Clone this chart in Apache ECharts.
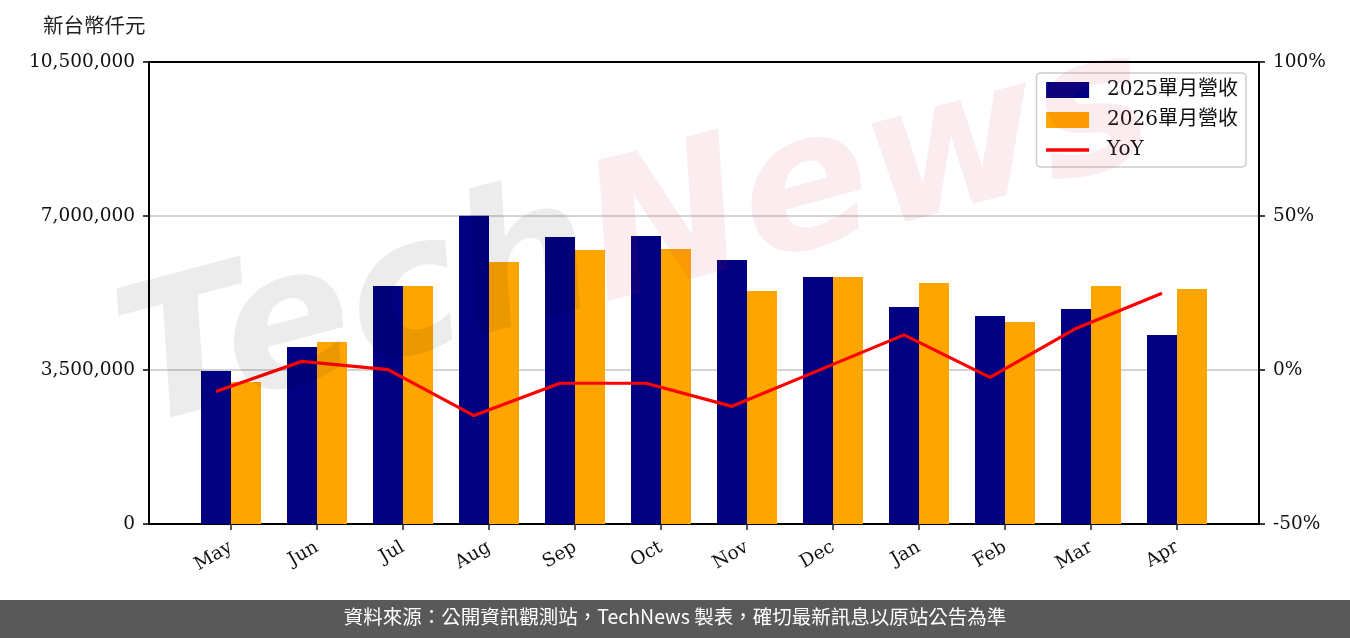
<!DOCTYPE html>
<html>
<head>
<meta charset="utf-8">
<script src="https://cdn.jsdelivr.net/npm/echarts@6/dist/echarts.min.js"></script>
<style>html,body{margin:0;padding:0;background:#fff;}#c{width:1350px;height:638px;}</style>
</head>
<body>
<div id="c"></div>
<script>
const months = ['May','Jun','Jul','Aug','Sep','Oct','Nov','Dec','Jan','Feb','Mar','Apr'];
const rev2025 = [3477000, 4023000, 5409000, 7007000, 6523000, 6545000, 6000000, 5614000, 4932000, 4727000, 4886000, 4295000];
const rev2026 = [3227000, 4136000, 5409000, 5955000, 6227000, 6250000, 5295000, 5614000, 5477000, 4591000, 5409000, 5341000];
const yoy = [-7.0, 2.8, 0.1, -14.8, -4.3, -4.3, -11.8, -0.2, 11.4, -2.4, 13.5, 24.9];
const leftTicks = [0, 3500000, 7000000, 10500000];
const rightTicks = [-50, 0, 50, 100];
const seriesNames = ['2025單月營收', '2026單月營收', 'YoY'];

const SERIF = "'DejaVu Serif', 'Noto Sans CJK TC', serif";
const fmt = v => String(v).replace(/\B(?=(\d{3})+(?!\d))/g, ',');

const chart = echarts.init(document.getElementById('c'), null, {renderer: 'canvas'});
const option = {
  animation: false,
  backgroundColor: '#fff',
  textStyle: {fontFamily: SERIF},
  grid: [
    {left: 149, right: 91, top: 62, bottom: 114},
    {left: 188, right: 130, top: 62, bottom: 114},
    {left: 173, right: 145, top: 62, bottom: 114}
  ],
  legend: {
    orient: 'vertical',
    right: 104, top: 73,
    data: [
      {name: seriesNames[0], icon: 'rect'},
      {name: seriesNames[1], icon: 'rect'},
      {name: seriesNames[2], itemStyle: {opacity: 0}, lineStyle: {width: 3.3, color: '#ff0000'}}
    ],
    itemWidth: 43, itemHeight: 16, itemGap: 10,
    padding: [7, 8, 7, 8],
    borderColor: '#cccccc', borderWidth: 1.5, borderRadius: 4,
    backgroundColor: 'rgba(255,255,255,0.8)',
    textStyle: {fontFamily: SERIF, fontSize: 20, color: '#111', padding: [0, 0, 0, 13], lineHeight: 20}
  },
  xAxis: [
    {gridIndex: 0, type: 'value', min: 0, max: 1, position: 'bottom',
     axisLine: {show: true, onZero: false, lineStyle: {color: '#000', width: 2}}, axisTick: {show: false}, axisLabel: {show: false}, splitLine: {show: false}},
    {gridIndex: 0, type: 'value', min: 0, max: 1, position: 'top',
     axisLine: {show: true, onZero: false, lineStyle: {color: '#000', width: 2}}, axisTick: {show: false}, axisLabel: {show: false}, splitLine: {show: false}},
    {gridIndex: 1, type: 'category', data: months, boundaryGap: true, position: 'bottom',
     axisLine: {show: false, onZero: false}, axisTick: {show: true, alignWithLabel: true, length: 6, lineStyle: {color: '#222', width: 1.5}},
     axisLabel: {rotate: 30, fontFamily: SERIF, fontSize: 18.5, color: '#111', margin: 22, interval: 0}},
    {gridIndex: 2, type: 'category', data: months, boundaryGap: true, show: false, axisLine: {onZero: false}}
  ],
  yAxis: [
    {gridIndex: 0, type: 'value', min: 0, max: 10500000, interval: 3500000, position: 'left',
     axisLine: {show: true, onZero: false, lineStyle: {color: '#000', width: 2}},
     axisTick: {show: true, length: 6, lineStyle: {color: '#000', width: 1.5}},
     axisLabel: {fontFamily: SERIF, fontSize: 18.5, color: '#111', margin: 14, formatter: v => fmt(v)},
     splitLine: {show: true, lineStyle: {color: '#d4d4d4', width: 2}}},
    {gridIndex: 0, type: 'value', min: -50, max: 100, interval: 50, position: 'right',
     axisLine: {show: true, onZero: false, lineStyle: {color: '#000', width: 2}},
     axisTick: {show: true, length: 6, lineStyle: {color: '#000', width: 1.5}},
     axisLabel: {fontFamily: SERIF, fontSize: 18.5, color: '#111', margin: 14, formatter: v => v + '%'},
     splitLine: {show: false}},
    {gridIndex: 1, type: 'value', min: 0, max: 10500000, show: false},
    {gridIndex: 2, type: 'value', min: -50, max: 100, show: false}
  ],
  series: [
    {name: seriesNames[0], type: 'bar', xAxisIndex: 2, yAxisIndex: 2, data: rev2025, barWidth: 30, barGap: '0%',
     itemStyle: {color: '#000080'}, z: 3},
    {name: seriesNames[1], type: 'bar', xAxisIndex: 2, yAxisIndex: 2, data: rev2026, barWidth: 30, barGap: '0%',
     itemStyle: {color: '#ffa500'}, z: 3},
    {name: seriesNames[2], type: 'line', xAxisIndex: 3, yAxisIndex: 3, data: yoy, symbol: 'none', showSymbol: false,
     lineStyle: {color: '#ff0000', width: 3.2}, itemStyle: {color: '#ff0000'}, z: 4}
  ],
  graphic: [
    {type: 'text', left: 43, top: 15, style: {text: '新台幣仟元', font: "20.5px 'Noto Sans CJK TC', sans-serif", fill: '#222'}},
    {type: 'text', x: 150, y: 470, rotation: 0.26, z: 100, silent: true,
     style: {text: '{a|Tech}{b|News}', font: "italic bold 190px 'DejaVu Sans', sans-serif", textVerticalAlign: 'bottom',
       rich: {
         a: {font: "italic bold 190px 'DejaVu Sans', sans-serif", fill: 'rgba(0,0,0,0.075)'},
         b: {font: "italic bold 190px 'DejaVu Sans', sans-serif", fill: 'rgba(200,30,50,0.08)'}
       }}},
    {type: 'rect', left: 0, top: 600, shape: {width: 1350, height: 38}, style: {fill: '#595959'}, z: 100},
    {type: 'text', left: 'center', top: 607, z: 101,
     style: {text: '資料來源：公開資訊觀測站，TechNews 製表，確切最新訊息以原站公告為準', font: "19.5px 'Noto Sans CJK TC', sans-serif", fill: '#fff'}}
  ]
};
chart.setOption(option);
</script>
</body>
</html>
